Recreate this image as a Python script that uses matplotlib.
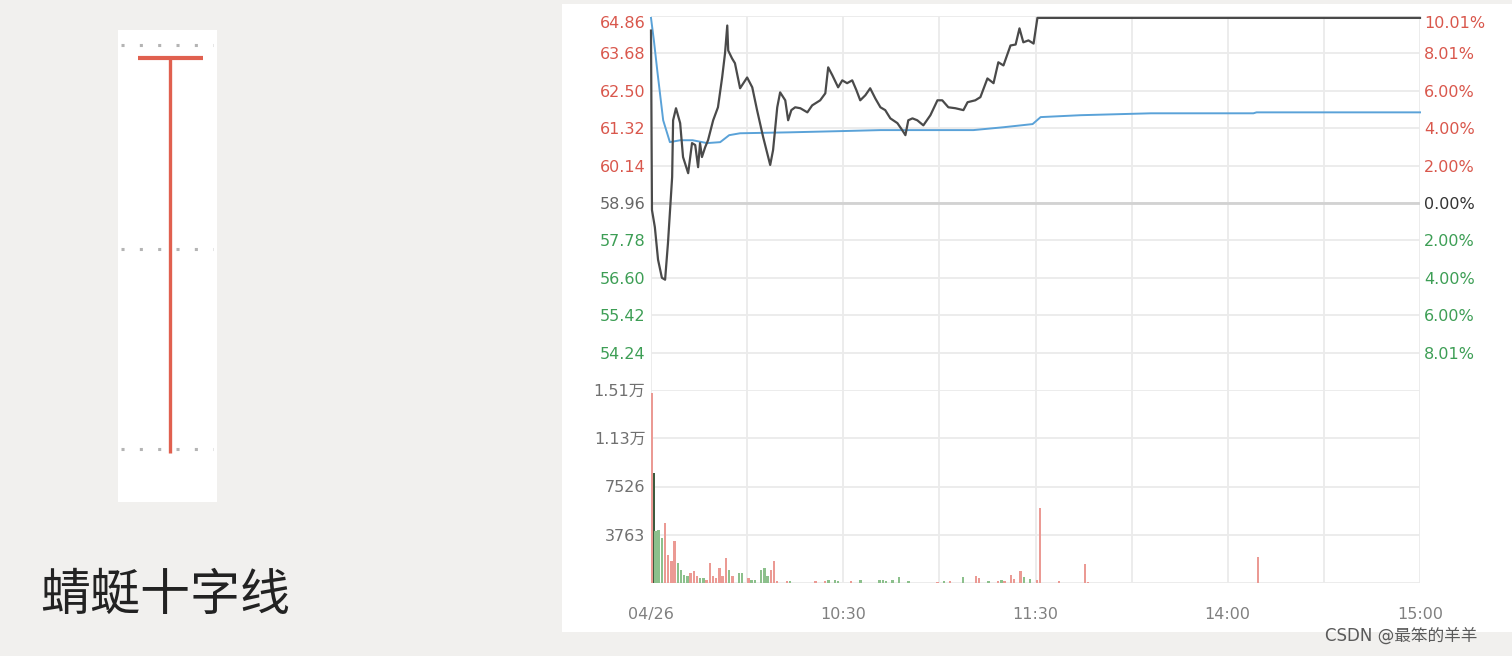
import numpy as np
import matplotlib.pyplot as plt
from matplotlib.patches import Rectangle

plt.rcParams['font.family'] = ['DejaVu Sans', 'Noto Sans CJK SC']

# intraday price (minutes of trading time after 9:30)
price_min = [0, 0.3, 1.2, 2.2, 3.4, 4.4, 5.3, 6.6, 6.9, 7.8, 9.1, 10.0, 11.6, 12.8, 13.8,
             14.7, 15.3, 15.9, 16.9, 17.8, 19.4, 20.9, 22.2, 23.1, 23.8, 24.1, 25.3, 26.2,
             27.8, 30.0, 31.6, 33.1, 35.0, 37.2, 38.1, 39.4, 40.3, 41.9, 42.8, 43.8, 45.0,
             46.6, 48.8, 50.3, 52.8, 54.4, 55.3, 56.6, 58.4, 59.7, 61.2, 62.8, 64.1, 65.3,
             66.9, 68.4, 70.0, 71.6, 73.1, 74.7, 76.9, 78.4, 79.4, 80.3, 81.6, 83.1, 85.0,
             87.2, 89.4, 90.9, 92.8, 95.0, 97.5, 98.8, 101.2, 102.8, 105.0, 106.9, 108.4,
             110.0, 112.2, 113.8, 115.0, 116.2, 117.8, 119.4, 120.6, 240]
price_val = [64.40, 58.74, 58.20, 57.17, 56.60, 56.54, 57.70, 59.78, 61.57, 61.95, 61.48,
             60.41, 59.90, 60.85, 60.79, 60.09, 60.85, 60.41, 60.72, 60.94, 61.57, 61.98,
             62.92, 63.68, 64.56, 63.77, 63.52, 63.37, 62.58, 62.92, 62.61, 61.89, 61.04,
             60.16, 60.63, 61.98, 62.45, 62.20, 61.57, 61.89, 61.98, 61.95, 61.82, 62.04,
             62.20, 62.42, 63.24, 62.99, 62.61, 62.83, 62.74, 62.83, 62.52, 62.20, 62.36,
             62.58, 62.26, 61.98, 61.89, 61.63, 61.48, 61.26, 61.10, 61.57, 61.63, 61.57,
             61.41, 61.73, 62.20, 62.20, 61.98, 61.95, 61.89, 62.14, 62.20, 62.30, 62.89,
             62.74, 63.40, 63.30, 63.93, 63.96, 64.47, 64.03, 64.09, 63.99, 64.80, 64.80]

# average price line
avg_min = [0, 0.9, 2.0, 3.8, 5.9, 9.1, 13.0, 17.5, 21.6, 24.4, 27.8, 43.4, 60.0, 71.6,
           100.6, 110.0, 119.1, 121.6, 134.0, 156.0, 188.0, 189.0, 240]
avg_val = [64.80, 64.09, 63.10, 61.57, 60.88, 60.94, 60.94, 60.85, 60.88, 61.10, 61.16,
           61.19, 61.23, 61.26, 61.26, 61.35, 61.45, 61.67, 61.73, 61.79, 61.79, 61.82,
           61.82]

# volume per minute: r = up, g = down, d = flat
vol_min = [0, 0.5, 1, 2, 3, 4, 5, 6, 7, 8, 9, 10, 11, 12, 13, 14, 15, 16, 17, 18, 19, 20,
           21, 22, 23, 24, 25, 27, 28, 30, 31, 32, 34, 35, 36, 37, 38, 39, 42, 43, 51, 54,
           55, 57, 58, 62, 65, 71, 72, 73, 75, 77, 80, 89, 91, 93, 97, 101, 102, 105, 108,
           109, 110, 112, 113, 115, 116, 118, 120, 121, 127, 135, 136, 189, 240]
vol_val = [14800, 8600, 4050, 4150, 3520, 4700, 2220, 1700, 3260, 1570, 1040, 650, 520,
           780, 910, 520, 390, 390, 260, 1570, 520, 390, 1170, 520, 1960, 1040, 520, 780,
           780, 390, 260, 260, 1040, 1170, 520, 1040, 1700, 130, 130, 180, 130, 130, 200,
           200, 180, 130, 250, 200, 200, 130, 200, 470, 180, 100, 130, 130, 470, 520, 400,
           180, 150, 200, 150, 650, 350, 950, 450, 300, 200, 5880, 180, 1450, 100, 2040, 60]
vol_dir = ['r', 'd', 'g', 'g', 'g', 'r', 'r', 'r', 'r', 'g', 'g', 'g', 'g', 'r', 'r', 'r',
           'g', 'g', 'r', 'r', 'r', 'r', 'r', 'r', 'r', 'g', 'r', 'g', 'g', 'r', 'g', 'g',
           'g', 'g', 'g', 'r', 'r', 'r', 'r', 'g', 'r', 'r', 'g', 'g', 'g', 'r', 'g', 'g',
           'g', 'g', 'g', 'g', 'g', 'r', 'g', 'r', 'g', 'r', 'r', 'g', 'r', 'g', 'r', 'r',
           'r', 'r', 'g', 'g', 'r', 'r', 'r', 'r', 'r', 'r', 'r']

prev_close = 58.96
price_ticks = [54.24, 55.42, 56.60, 57.78, 58.96, 60.14, 61.32, 62.50, 63.68, 64.86]
pct_labels = ['8.01%', '6.00%', '4.00%', '2.00%', '0.00%', '2.00%', '4.00%', '6.00%',
              '8.01%', '10.01%']
vol_ticks = [3763, 7526, 11289, 15052]
vol_labels = ['3763', '7526', '1.13万', '1.51万']
time_ticks = [0, 60, 120, 180, 240]
time_labels = ['04/26', '10:30', '11:30', '14:00', '15:00']

# the dragonfly doji on the left
k_open, k_high, k_low, k_close = 100, 100, 0, 100
guide_levels = [103.3, 51.6, 1.0]

RED, GREEN, GREY = '#d9574c', '#3d9e55', '#666666'
BAR_COL = {'r': '#eb9a94', 'g': '#8cc08c', 'd': '#3d5a3d'}
GRID = '#ebebeb'

W, H = 1512, 656


def px(l, t, r, b):
    return [l / W, 1 - b / H, (r - l) / W, (b - t) / H]


fig = plt.figure(figsize=(W / 100, H / 100), dpi=100, facecolor='#f1f0ee')
fig.patches.append(Rectangle((562 / W, 1 - 632 / H), (W - 562) / W, 628 / H,
                             transform=fig.transFigure, facecolor='white',
                             edgecolor='none', zorder=-5))

# ---- price panel
ax = fig.add_axes(px(651, 16, 1420, 390))
ax.set_xlim(0, 240)
ax.set_ylim(53.06, 64.86)
ax.set_facecolor('none')
for s in ax.spines.values():
    s.set_visible(False)
for t in range(0, 241, 30):
    ax.axvline(t, color=GRID, lw=1.3, zorder=1)
for p in price_ticks:
    ax.axhline(p, color=GRID, lw=1.3, zorder=1)
ax.axhline(prev_close, color='#d2d2d2', lw=2, zorder=1)

ax.plot(avg_min, avg_val, color='#5aa2d8', lw=1.4, zorder=3, clip_on=False)
ax.plot(price_min, price_val, color='#4a4a4a', lw=1.6, zorder=4, clip_on=False)

ax.set_xticks([])
ax.set_yticks(price_ticks)
ax.set_yticklabels([f'{p:.2f}' for p in price_ticks], fontsize=11.5)
ax.tick_params(axis='y', length=0, pad=4)
for lab, p in zip(ax.get_yticklabels(), price_ticks):
    lab.set_color(RED if p > prev_close else GREEN if p < prev_close else GREY)
ax.get_yticklabels()[-1].set_va('top')

ax2 = ax.twinx()
ax2.set_ylim(ax.get_ylim())
for s in ax2.spines.values():
    s.set_visible(False)
ax2.set_yticks(price_ticks)
ax2.set_yticklabels(pct_labels, fontsize=11.5)
ax2.tick_params(axis='y', length=0, pad=3)
for lab, p in zip(ax2.get_yticklabels(), price_ticks):
    lab.set_color(RED if p > prev_close else GREEN if p < prev_close else '#333333')
ax2.get_yticklabels()[-1].set_va('top')

# ---- volume panel
axv = fig.add_axes(px(651, 390, 1420, 583))
axv.set_xlim(0, 240)
axv.set_ylim(0, 15052)
axv.set_facecolor('none')
for s in axv.spines.values():
    s.set_visible(False)
for t in range(0, 241, 30):
    axv.axvline(t, color=GRID, lw=1.3, zorder=1)
for v in [0] + vol_ticks:
    axv.axhline(v, color=GRID, lw=1.3, zorder=1)
axv.bar(vol_min, vol_val, width=0.75, align='edge',
        color=[BAR_COL[d] for d in vol_dir], zorder=3)
axv.set_yticks(vol_ticks)
axv.set_yticklabels(vol_labels, fontsize=11.5, color='#707070')
axv.set_xticks(time_ticks)
axv.set_xticklabels(time_labels, fontsize=11.5, color='#808080')
axv.tick_params(axis='y', length=0, pad=4)
axv.tick_params(axis='x', length=0, pad=17)

# ---- candle panel
axk = fig.add_axes(px(118, 30, 217, 502))
axk.set_facecolor('white')
for s in axk.spines.values():
    s.set_visible(False)
axk.set_xticks([])
axk.set_yticks([])
axk.set_xlim(-1.06, 0.94)
axk.set_ylim(-12.4, 107.1)
for g in guide_levels:
    axk.hlines(g, -1.0, 0.86, colors='#b4b4b4', lw=2.2, linestyles=(0, (1, 5)))
axk.vlines(0, k_low, k_high, colors='#e0604f', lw=2.4)
axk.hlines(k_open, -0.657, 0.657, colors='#e0604f', lw=3)

fig.text(40 / W, 1 - 596 / H, '蜻蜓十字线', fontsize=36, color='#222222',
         family='Noto Sans CJK SC', va='center')
fig.text(1325 / W, 1 - 636 / H, 'CSDN @最笨的羊羊', fontsize=12, color='#5a5a5a',
         family=['DejaVu Sans', 'Noto Sans CJK SC'], va='center')

fig.savefig('out.png', dpi=100, facecolor=fig.get_facecolor())
